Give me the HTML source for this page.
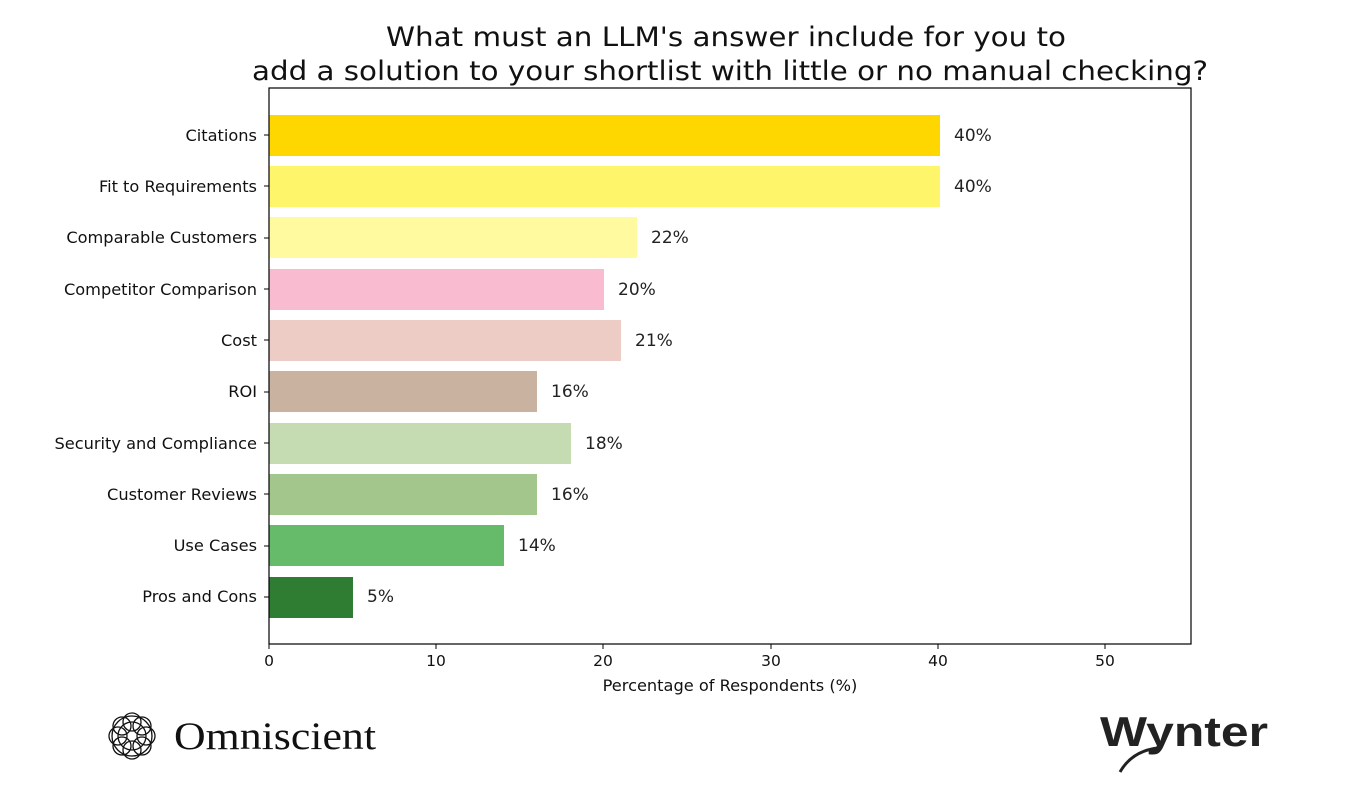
<!DOCTYPE html>
<html><head><meta charset="utf-8"><style>body{margin:0;background:#fff}</style></head><body>
<svg width="1350" height="796" xmlns="http://www.w3.org/2000/svg" font-family="DejaVu Sans, Liberation Sans, sans-serif">
<rect width="1350" height="796" fill="#fff"/>
<text x="726" y="46" font-size="27" text-anchor="middle" fill="#111" textLength="680" lengthAdjust="spacingAndGlyphs">What must an LLM's answer include for you to</text>
<text x="730" y="80" font-size="27" text-anchor="middle" fill="#111" textLength="956" lengthAdjust="spacingAndGlyphs">add a solution to your shortlist with little or no manual checking?</text>
<g>
<rect x="269" y="115" width="671" height="41" fill="#FFD700"/>
<rect x="269" y="166" width="671" height="41" fill="#FFF56B"/>
<rect x="269" y="217" width="368" height="41" fill="#FFF9A0"/>
<rect x="269" y="269" width="335" height="41" fill="#F8BBD0"/>
<rect x="269" y="320" width="352" height="41" fill="#EDCCC5"/>
<rect x="269" y="371" width="268" height="41" fill="#C9B3A0"/>
<rect x="269" y="423" width="302" height="41" fill="#C5DBB1"/>
<rect x="269" y="474" width="268" height="41" fill="#A3C68D"/>
<rect x="269" y="525" width="235" height="41" fill="#66BB6A"/>
<rect x="269" y="577" width="84" height="41" fill="#2E7D32"/>
</g>
<g font-size="17" fill="#222">
<text x="954" y="141">40%</text>
<text x="954" y="192">40%</text>
<text x="651" y="243">22%</text>
<text x="618" y="295">20%</text>
<text x="635" y="346">21%</text>
<text x="551" y="397">16%</text>
<text x="585" y="449">18%</text>
<text x="551" y="500">16%</text>
<text x="518" y="551">14%</text>
<text x="367" y="602">5%</text>
</g>
<rect x="269" y="88" width="922" height="556" fill="none" stroke="#000" stroke-width="1.2"/>
<g font-size="16.2" fill="#111" text-anchor="end">
<text x="257" y="141">Citations</text>
<text x="257" y="192">Fit to Requirements</text>
<text x="257" y="243">Comparable Customers</text>
<text x="257" y="295">Competitor Comparison</text>
<text x="257" y="346">Cost</text>
<text x="257" y="397">ROI</text>
<text x="257" y="449">Security and Compliance</text>
<text x="257" y="500">Customer Reviews</text>
<text x="257" y="551">Use Cases</text>
<text x="257" y="602">Pros and Cons</text>
</g>
<g stroke="#000">
<line x1="264" x2="269" y1="135" y2="135"/><line x1="264" x2="269" y1="186" y2="186"/><line x1="264" x2="269" y1="238" y2="238"/><line x1="264" x2="269" y1="289" y2="289"/><line x1="264" x2="269" y1="340" y2="340"/><line x1="264" x2="269" y1="392" y2="392"/><line x1="264" x2="269" y1="443" y2="443"/><line x1="264" x2="269" y1="494" y2="494"/><line x1="264" x2="269" y1="546" y2="546"/><line x1="264" x2="269" y1="597" y2="597"/>
<line x1="269" x2="269" y1="644" y2="649"/><line x1="436" x2="436" y1="644" y2="649"/><line x1="603" x2="603" y1="644" y2="649"/><line x1="771" x2="771" y1="644" y2="649"/><line x1="938" x2="938" y1="644" y2="649"/><line x1="1105" x2="1105" y1="644" y2="649"/>
</g>
<g font-size="15.5" fill="#111" text-anchor="middle">
<text x="269" y="666">0</text><text x="436" y="666">10</text><text x="603" y="666">20</text><text x="771" y="666">30</text><text x="938" y="666">40</text><text x="1105" y="666">50</text>
<text x="730" y="691" font-size="16.2">Percentage of Respondents (%)</text>
</g>
<g fill="none" stroke="#111" stroke-width="1.3">
<circle cx="132" cy="736" r="20"/><circle cx="132" cy="736" r="14"/>
<circle cx="132" cy="722" r="9"/><circle cx="132" cy="750" r="9"/><circle cx="118" cy="736" r="9"/><circle cx="146" cy="736" r="9"/>
<circle cx="122" cy="726" r="9"/><circle cx="142" cy="726" r="9"/><circle cx="122" cy="746" r="9"/><circle cx="142" cy="746" r="9"/>
</g>
<text x="174" y="749" font-family="Liberation Serif, serif" font-size="39" fill="#111" textLength="202" lengthAdjust="spacingAndGlyphs">Omniscient</text>
<text x="1100" y="746" font-family="Liberation Sans, sans-serif" font-weight="bold" font-size="42" fill="#222" textLength="168" lengthAdjust="spacingAndGlyphs">Wynter</text>
<path d="M1158 748 C1140 750 1128 758 1120 772" stroke="#222" stroke-width="3" fill="none"/>
</svg>
</body></html>
